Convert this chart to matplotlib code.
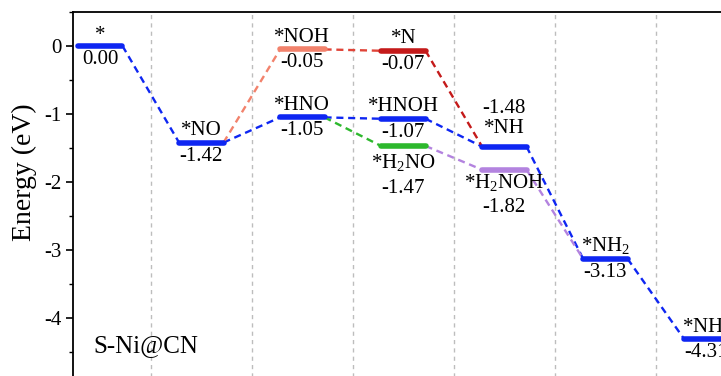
import matplotlib
matplotlib.use("Agg")
import matplotlib.pyplot as plt

plt.rcParams['font.family'] = ['Liberation Serif', 'DejaVu Serif']
plt.rcParams['mathtext.fontset'] = 'custom'
plt.rcParams['mathtext.rm'] = 'Liberation Serif'

# main (blue) pathway
main_steps = [0, 1, 2, 3, 4, 5, 6]
main_names = ['*', '*NO', '*HNO', '*HNOH', '*NH', r'*NH$_\mathregular{2}$', r'*NH$_\mathregular{3}$']
main_E = [0.00, -1.42, -1.05, -1.07, -1.48, -3.13, -4.31]

# NOH branch: *NO -> *NOH -> *N -> *NH
noh_steps = [1, 2, 3, 4]
noh_names = ['*NO', '*NOH', '*N', '*NH']
noh_E = [-1.42, -0.05, -0.07, -1.48]

# H2NO branch: *HNO -> *H2NO -> *H2NOH -> *NH2
h2no_steps = [2, 3, 4, 5]
h2no_names = ['*HNO', r'*H$_\mathregular{2}$NO', r'*H$_\mathregular{2}$NOH', r'*NH$_\mathregular{2}$']
h2no_E = [-1.05, -1.47, -1.82, -3.13]

blue = '#0E26F2'
salmon = '#F2826C'
red = '#E04438'
darkred = '#C41A1A'
green = '#2DB82D'
purple = '#B383DF'

hw = 0.22  # half width of a level

fig = plt.figure(figsize=(7.21, 3.76), dpi=100)
ax = fig.add_axes([73 / 721, -10 / 376, 694 / 721, 374 / 376])
ax.set_xlim(-0.27, 6.6)
ax.set_ylim(-5, 0.5)

for xv in [0.5, 1.5, 2.5, 3.5, 4.5, 5.5]:
    ax.axvline(xv, color='#BDBDBD', ls=(0, (3, 3)), lw=1, zorder=0)


def connect(x0, e0, x1, e1, c):
    ax.plot([x0 + hw, x1 - hw], [e0, e1], color=c, ls=(0, (3, 2)), lw=1.7, zorder=2)


def level(x, e, c):
    ax.plot([x - hw, x + hw], [e, e], color=c, lw=4, solid_capstyle='round', zorder=3)


# connectors
for i in range(len(main_steps) - 1):
    connect(main_steps[i], main_E[i], main_steps[i + 1], main_E[i + 1], blue)
for i, c in enumerate([salmon, red, darkred]):
    connect(noh_steps[i], noh_E[i], noh_steps[i + 1], noh_E[i + 1], c)
for i, c in enumerate([green, purple, purple]):
    connect(h2no_steps[i], h2no_E[i], h2no_steps[i + 1], h2no_E[i + 1], c)

# levels
for x, e in zip(main_steps, main_E):
    level(x, e, blue)
level(noh_steps[1], noh_E[1], salmon)
level(noh_steps[2], noh_E[2], darkred)
level(h2no_steps[1], h2no_E[1], green)
level(h2no_steps[2], h2no_E[2], purple)

fs = 15


def label(x, e, name, name_dy=0.18, val_dy=-0.2):
    ax.text(x, e + name_dy, name, ha='center', va='center', fontsize=fs, zorder=4)
    ax.text(x, e + val_dy, f'{e:.2f}', ha='center', va='center', fontsize=fs, zorder=4)


for x, e, n in zip(main_steps, main_E, main_names):
    if n == '*NH':
        label(x, e, n, 0.27, 0.56)
    elif n == '*':
        label(x, e, n, 0.16, -0.2)
    else:
        label(x, e, n)
label(noh_steps[1], noh_E[1], noh_names[1])
label(noh_steps[2], noh_E[2], noh_names[2])
label(h2no_steps[1], h2no_E[1], h2no_names[1], -0.26, -0.62)
label(h2no_steps[2], h2no_E[2], h2no_names[2], -0.2, -0.56)

ax.text(-0.07, -4.41, 'S-Ni@CN', ha='left', va='center', fontsize=18)

ax.set_xticks([])
ax.set_yticks([0, -1, -2, -3, -4])
ax.set_yticklabels(['0', '-1', '-2', '-3', '-4'])
ax.set_yticks([0.5, -0.5, -1.5, -2.5, -3.5, -4.5], minor=True)
ax.tick_params(axis='y', which='major', direction='out', length=5, width=1.2, labelsize=15, pad=3)
ax.tick_params(axis='y', which='minor', direction='out', length=3, width=1.0)
for s in ax.spines.values():
    s.set_linewidth(1.3)

fig.text(24 / 721, 1 - 172 / 376, 'Energy (eV)', rotation=90, ha='center', va='center', fontsize=20)

fig.savefig('out.png', dpi=100)
